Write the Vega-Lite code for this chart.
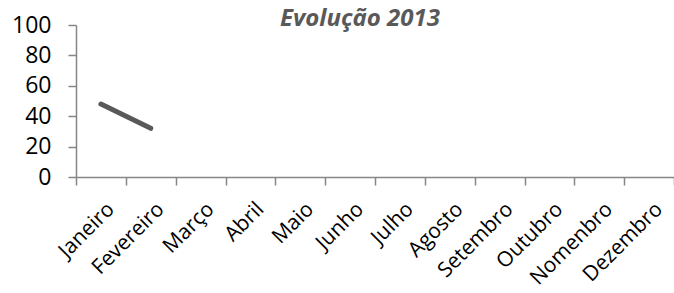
{
  "$schema": "https://vega.github.io/schema/vega-lite/v6.json",
  "autosize": {"type": "none"},
  "padding": {"left": 76, "top": 25, "right": 0, "bottom": 116},
  "width": 598,
  "height": 152,
  "background": "white",
  "title": {
    "text": "Evolução 2013",
    "font": "Open Sans",
    "fontSize": 24,
    "fontWeight": "bold",
    "fontStyle": "italic",
    "color": "#595959",
    "anchor": "middle",
    "dx": -15,
    "offset": 0,
    "baseline": "alphabetic",
    "dy": 36
  },
  "data": {
    "values": [
      {"mes": "Janeiro", "valor": 48},
      {"mes": "Fevereiro", "valor": 32},
      {"mes": "Março", "valor": null},
      {"mes": "Abril", "valor": null},
      {"mes": "Maio", "valor": null},
      {"mes": "Junho", "valor": null},
      {"mes": "Julho", "valor": null},
      {"mes": "Agosto", "valor": null},
      {"mes": "Setembro", "valor": null},
      {"mes": "Outubro", "valor": null},
      {"mes": "Nomenbro", "valor": null},
      {"mes": "Dezembro", "valor": null}
    ]
  },
  "mark": {"type": "line", "color": "#595959", "strokeWidth": 5, "strokeCap": "round"},
  "encoding": {
    "x": {
      "field": "mes",
      "type": "nominal",
      "sort": null,
      "scale": {"domain": ["Janeiro","Fevereiro","Março","Abril","Maio","Junho","Julho","Agosto","Setembro","Outubro","Nomenbro","Dezembro"], "paddingInner": 0, "paddingOuter": 0},
      "axis": {
        "title": null,
        "labelAngle": -45,
        "labelFont": "Open Sans",
        "labelFontSize": 21,
        "labelColor": "#000000",
        "labelPadding": 13,
        "labelOffset": 2,
        "tickBand": "extent",
        "tickSize": 8,
        "tickColor": "#868686",
        "tickWidth": 1.5,
        "domainColor": "#868686",
        "domainWidth": 1.5,
        "grid": false,
        "labelOverlap": false
      }
    },
    "y": {
      "field": "valor",
      "type": "quantitative",
      "scale": {"domain": [0, 100], "nice": false},
      "axis": {
        "title": null,
        "values": [0, 20, 40, 60, 80, 100],
        "labelFont": "Open Sans",
        "labelFontSize": 23,
        "labelColor": "#000000",
        "labelPadding": 17,
        "tickSize": 8,
        "tickColor": "#868686",
        "tickWidth": 1.5,
        "domainColor": "#868686",
        "domainWidth": 1.5,
        "grid": false
      }
    }
  },
  "config": {"view": {"stroke": null}}
}
